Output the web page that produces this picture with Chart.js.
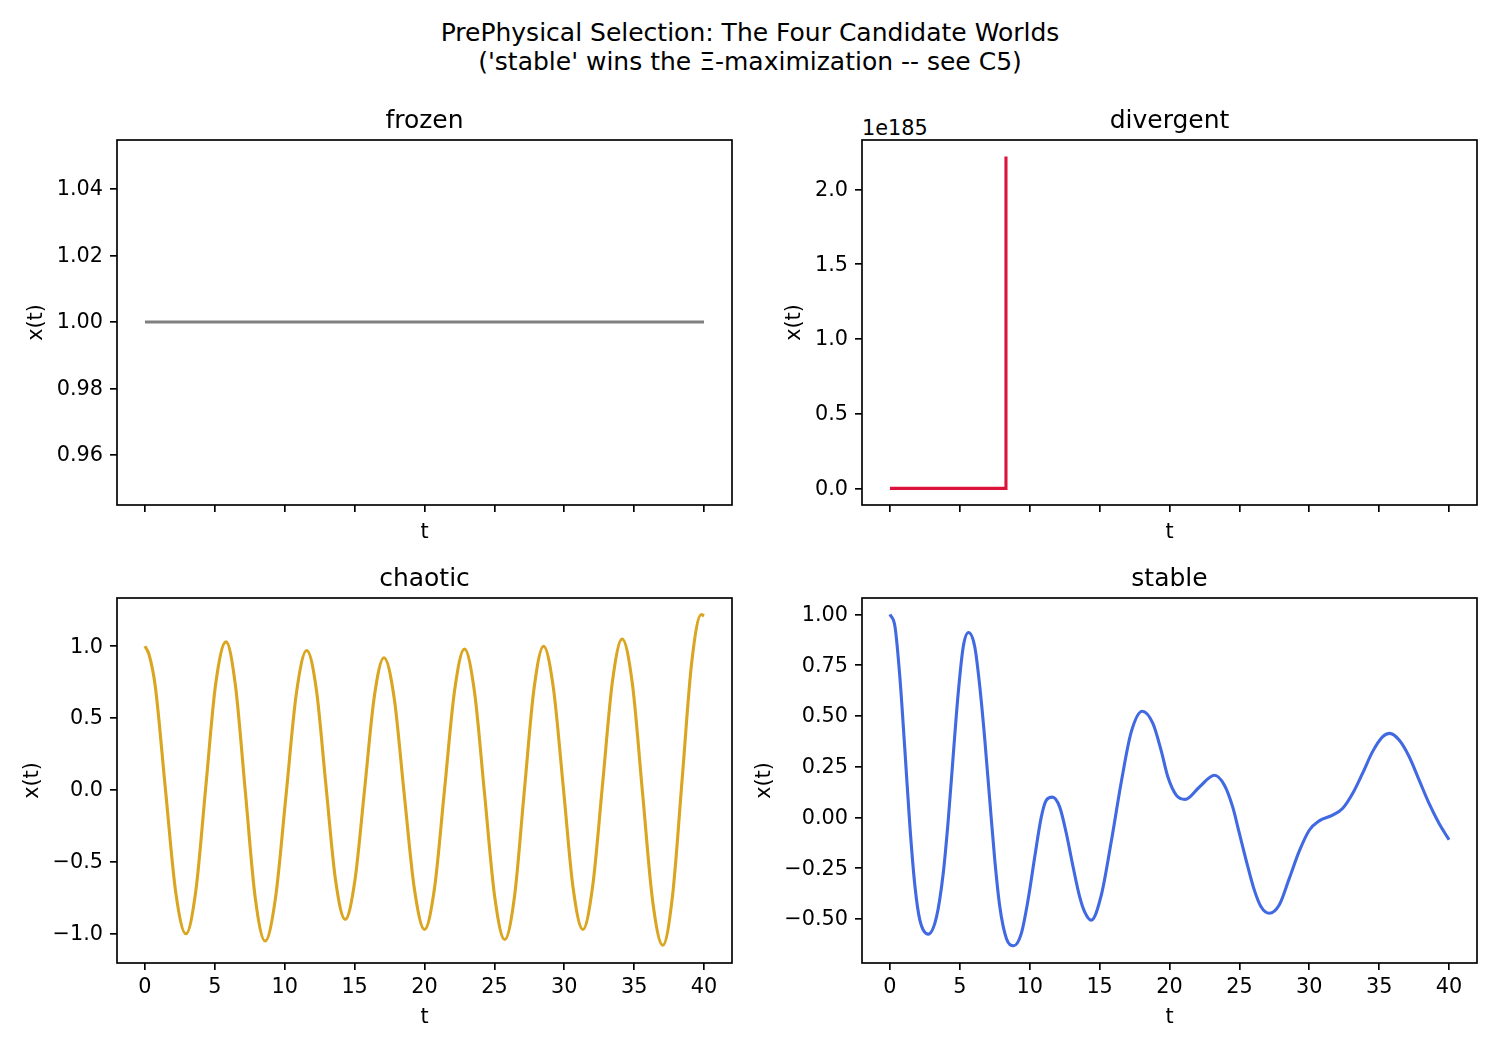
<!DOCTYPE html>
<html>
<head>
<meta charset="utf-8">
<script src="https://cdn.jsdelivr.net/npm/chart.js@4.4.1/dist/chart.umd.min.js"></script>
<style>
html,body{margin:0;padding:0;background:#fff;}
body{width:1500px;height:1050px;position:relative;overflow:hidden;font-family:"DejaVu Sans",sans-serif;color:#000;}
.sup{position:absolute;left:0;width:1500px;text-align:center;font-size:25px;line-height:29px;}
.off{position:absolute;font-size:20.8px;line-height:25px;}
canvas{position:absolute;}
</style>
</head>
<body>
<div class="sup" style="top:17.5px">PrePhysical Selection: The Four Candidate Worlds<br>('stable' wins the Ξ-maximization -- see C5)</div>
<div class="off" style="left:862px;top:116px">1e185</div>
<script>
// ---------------- data ----------------
const xTicks = [0, 5, 10, 15, 20, 25, 30, 35, 40];

const frozenT = [0, 40];
const frozenX = [1.0, 1.0];
const frozenTicks = [0.96, 0.98, 1.00, 1.02, 1.04];

// divergent values are in units of 1e185 (offset text shown above the axes)
const divergentT = [0, 2, 4, 6, 8.28, 8.3];
const divergentX = [0, 0, 0, 0, 0, 2.22];
const divergentTicks = [0.0, 0.5, 1.0, 1.5, 2.0];

const chaoticT = [0, 0.3, 0.74, 1.47, 2.20, 2.93, 3.64, 4.35, 5.05, 5.8, 6.47, 7.18, 7.89,
  8.6, 9.34, 10.09, 10.83, 11.57, 12.26, 12.95, 13.64, 14.33, 15.02, 15.72, 16.41,
  17.1, 17.83, 18.55, 19.28, 20.0, 20.72, 21.43, 22.15, 22.86, 23.58, 24.30, 25.02,
  25.74, 26.44, 27.13, 27.83, 28.52, 29.22, 29.93, 30.63, 31.33, 32.03, 32.74, 33.44,
  34.14, 34.87, 35.60, 36.32, 37.05, 37.74, 38.43, 39.11, 39.8, 40];
const chaoticX = [1.0, 0.94, 0.72, 0.0, -0.71, -1.0, -0.70, 0.02, 0.73, 1.03, 0.73, -0.01, -0.75,
  -1.05, -0.75, -0.04, 0.67, 0.97, 0.70, 0.03, -0.63, -0.90, -0.63, 0.01, 0.65,
  0.92, 0.64, -0.03, -0.69, -0.97, -0.68, 0.0, 0.69, 0.98, 0.68, -0.03, -0.74,
  -1.04, -0.74, -0.02, 0.70, 1.0, 0.71, 0.02, -0.68, -0.97, -0.67, 0.04, 0.75,
  1.05, 0.74, -0.02, -0.77, -1.08, -0.74, 0.07, 0.88, 1.22, 1.21];
const chaoticTicks = [-1.0, -0.5, 0.0, 0.5, 1.0];

const stableT = [0, 0.36, 0.71, 1.07, 1.43, 1.79, 2.14, 2.74, 3.33, 3.81,
  4.17, 4.52, 4.88, 5.24, 5.62, 6.07, 6.43, 6.79, 7.14, 7.5,
  7.86, 8.33, 8.86, 9.4, 9.88, 10.36, 10.83, 11.19, 11.62, 12.14,
  12.62, 13.1, 13.57, 13.93, 14.4, 15.12, 15.83, 16.55, 17.26, 18.05,
  18.81, 19.4, 19.88, 20.48, 21.12, 22.14, 23.21, 23.93, 24.52, 25.0,
  25.48, 26.07, 26.55, 27.14, 27.86, 28.57, 29.29, 30.0, 30.71, 31.67,
  32.38, 33.1, 33.81, 34.52, 35.24, 35.76, 36.43, 37.14, 37.86, 38.57,
  39.29, 40];
const stableX = [1.0, 0.94, 0.69, 0.33, -0.046, -0.34, -0.506, -0.575, -0.49, -0.276,
  -0.013, 0.30, 0.61, 0.84, 0.911, 0.84, 0.643, 0.38, 0.085, -0.21,
  -0.44, -0.596, -0.632, -0.571, -0.407, -0.194, 0.003, 0.085, 0.10, 0.052,
  -0.079, -0.243, -0.39, -0.465, -0.506, -0.383, -0.12, 0.175, 0.42, 0.523,
  0.463, 0.33, 0.20, 0.11, 0.089, 0.15, 0.208, 0.159, 0.052, -0.079,
  -0.21, -0.358, -0.44, -0.472, -0.43, -0.30, -0.165, -0.063, -0.017, 0.011,
  0.044, 0.118, 0.217, 0.323, 0.397, 0.414, 0.381, 0.30, 0.184, 0.069,
  -0.03, -0.11];
const stableTicks = [-0.50, -0.25, 0.00, 0.25, 0.50, 0.75, 1.00];

// ---------------- drawing ----------------
const FONT = 'DejaVu Sans';
const tickFont = {family: FONT, size: 20.8};
const titleFont = {family: FONT, size: 25, weight: 'normal'};
const SPINE = 1.67;

function fmt(dec) {
  return v => {
    const s = Math.abs(v).toFixed(dec);
    return (v < -1e-9 ? '\u2212' : '') + s;
  };
}

const framePlugin = {
  id: 'frame',
  afterDatasetsDraw(chart) {
    const {ctx, chartArea: a} = chart;
    ctx.save();
    ctx.strokeStyle = '#000';
    ctx.lineWidth = SPINE;
    ctx.strokeRect(a.left, a.top, a.right - a.left, a.bottom - a.top);
    ctx.restore();
  }
};

function makeChart(c) {
  const YW = 120, XH = 70, TOP = 50, RP = 20;
  const W = YW + 615 + RP, H = TOP + 365 + XH;
  const canvas = document.createElement('canvas');
  canvas.width = W; canvas.height = H;
  canvas.style.width = W + 'px'; canvas.style.height = H + 'px';
  canvas.style.left = (c.axLeft - YW) + 'px';
  canvas.style.top = (c.axTop - TOP) + 'px';
  document.body.appendChild(canvas);
  const grid = {display: true, drawOnChartArea: false, drawTicks: true, tickLength: 7,
                color: '#000', lineWidth: SPINE};
  new Chart(canvas, {
    type: 'line',
    data: {
      datasets: [{
        data: c.t.map((t, i) => ({x: t, y: c.v[i]})),
        borderColor: c.color,
        borderWidth: 3.1,
        pointRadius: 0,
        fill: false,
        cubicInterpolationMode: c.smooth ? 'monotone' : 'default',
        tension: 0
      }]
    },
    options: {
      responsive: false,
      animation: false,
      events: [],
      layout: {padding: {left: 0, right: RP, top: 0, bottom: 0}},
      plugins: {
        legend: {display: false},
        tooltip: {enabled: false},
        title: {display: true, text: c.title, font: titleFont, color: '#000', fullSize: false,
                padding: {top: 16, bottom: 4}}
      },
      scales: {
        x: {
          type: 'linear', min: -2, max: 42,
          afterBuildTicks: s => { s.ticks = xTicks.map(v => ({value: v})); },
          afterFit: s => { s.height = XH; s.paddingLeft = 0; s.paddingRight = 0; },
          ticks: {font: tickFont, color: '#000', padding: 5, maxRotation: 0, autoSkip: false,
                  callback: v => c.showX ? String(v) : ''},
          grid: grid,
          border: {display: false},
          title: {display: true, text: 't', font: tickFont, color: '#000',
                  padding: {top: 0, bottom: c.xTitlePad}}
        },
        y: {
          type: 'linear', min: c.ymin, max: c.ymax,
          afterBuildTicks: s => { s.ticks = c.yticks.map(v => ({value: v})); },
          afterFit: s => { s.width = YW; s.paddingTop = 0; s.paddingBottom = 0; },
          ticks: {font: tickFont, color: '#000', padding: 7, labelOffset: 1, autoSkip: false,
                  callback: fmt(c.dec)},
          grid: grid,
          border: {display: false},
          title: {display: true, text: 'x(t)', font: tickFont, color: '#000',
                  padding: {top: c.yTitlePad, bottom: 0}}
        }
      }
    },
    plugins: [framePlugin]
  });
}

makeChart({title: 'frozen', t: frozenT, v: frozenX, color: '#808080', smooth: false,
  axLeft: 117, axTop: 140, ymin: 0.945, ymax: 1.0547, yticks: frozenTicks, dec: 2,
  showX: false, xTitlePad: 29.5, yTitlePad: 27.5});
makeChart({title: 'divergent', t: divergentT, v: divergentX, color: '#DC143C', smooth: false,
  axLeft: 862, axTop: 140, ymin: -0.111, ymax: 2.331, yticks: divergentTicks, dec: 1,
  showX: false, xTitlePad: 29.5, yTitlePad: 40.5});
makeChart({title: 'chaotic', t: chaoticT, v: chaoticX, color: '#DAA520', smooth: true,
  axLeft: 117, axTop: 598, ymin: -1.203, ymax: 1.335, yticks: chaoticTicks, dec: 1,
  showX: true, xTitlePad: 2.5, yTitlePad: 23.5});
makeChart({title: 'stable', t: stableT, v: stableX, color: '#4169E1', smooth: true,
  axLeft: 862, axTop: 598, ymin: -0.717, ymax: 1.081, yticks: stableTicks, dec: 2,
  showX: true, xTitlePad: 2.5, yTitlePad: 10.5});
</script>
</body>
</html>
